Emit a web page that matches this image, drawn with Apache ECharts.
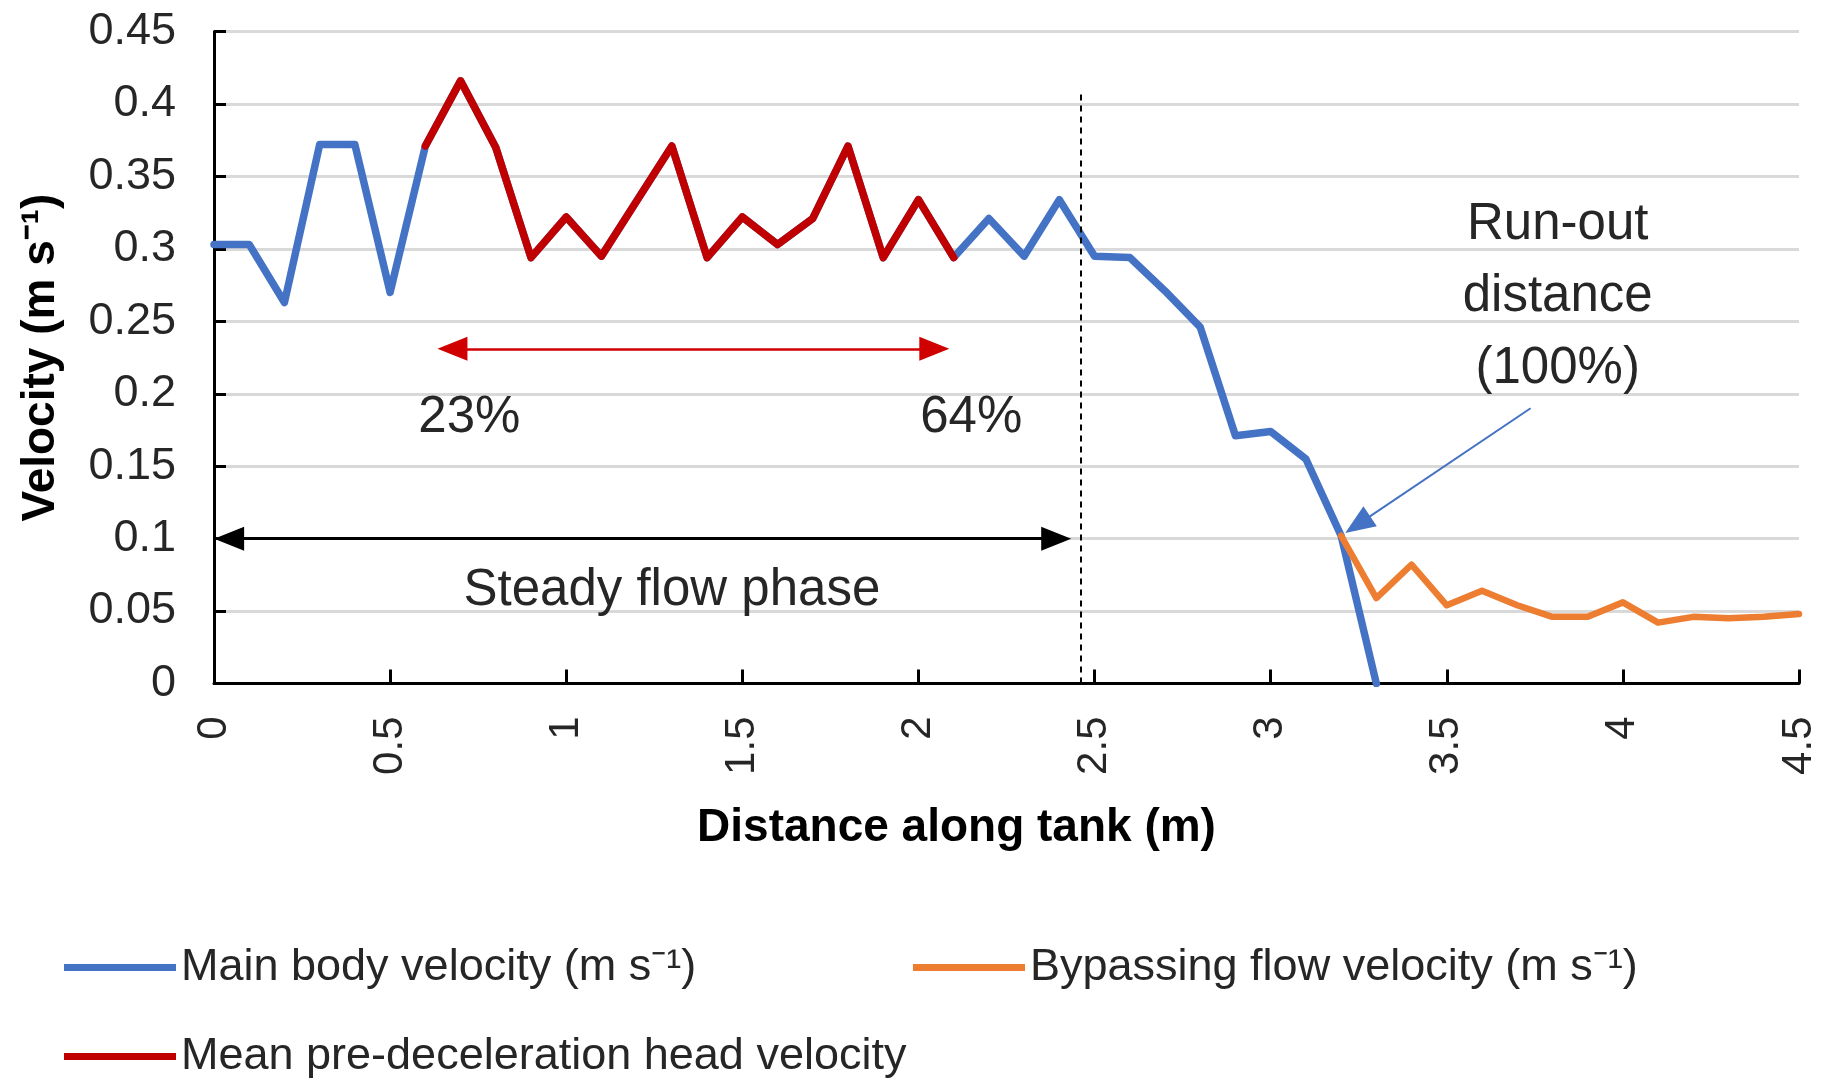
<!DOCTYPE html>
<html>
<head>
<meta charset="utf-8">
<script src="https://cdn.jsdelivr.net/npm/echarts@6/dist/echarts.min.js"></script>
<style>html,body{margin:0;padding:0;background:#fff}#c{width:1835px;height:1078px}</style>
</head>
<body>
<div id="c"></div>
<script>
// ---- data ----
const mainX = [0,0.1,0.2,0.3,0.4,0.5,0.6,0.7,0.8,0.9,1.0,1.1,1.2,1.3,1.4,1.5,1.6,1.7,1.8,1.9,2.0,2.1,2.2,2.3,2.4,2.5,2.6,2.7,2.8,2.9,3.0,3.1,3.2,3.3];
const mainV = [0.303,0.303,0.263,0.372,0.372,0.270,0.371,0.416,0.370,0.294,0.322,0.295,0.333,0.371,0.294,0.322,0.303,0.321,0.371,0.294,0.334,0.294,0.321,0.295,0.334,0.295,0.294,0.271,0.246,0.171,0.174,0.155,0.102,0.0];
const bypassX = [3.2,3.3,3.4,3.5,3.6,3.7,3.8,3.9,4.0,4.1,4.2,4.3,4.4,4.5];
const bypassV = [0.102,0.059,0.082,0.054,0.064,0.054,0.046,0.046,0.056,0.042,0.046,0.045,0.046,0.048];
const headX = [0.6,0.7,0.8,0.9,1.0,1.1,1.2,1.3,1.4,1.5,1.6,1.7,1.8,1.9,2.0,2.1];
const headV = [0.371,0.416,0.370,0.294,0.322,0.295,0.333,0.371,0.294,0.322,0.303,0.321,0.371,0.294,0.334,0.294];
const seriesNames = ['Main body velocity (m s\u207B\u00B9)','Bypassing flow velocity (m s\u207B\u00B9)','Mean pre-deceleration head velocity'];
const xTitle = 'Distance along tank (m)';
const yTitle = 'Velocity (m s\u207B\u00B9)';
// annotation anchors (data coordinates; arrowhead centres)
const steadyStart = [0.043, 0.1], steadyEnd = [2.391, 0.1];
const headArrowStart = [0.677, 0.231], headArrowEnd = [2.045, 0.231];
const dashedLineX = 2.46, dashedLineTop = 0.41;
const runoutArrowFrom = [3.738, 0.190], runoutArrowTo = [3.247, 0.1097];
const textNotes = [
  {text:'23%', at:[0.725, 0.183]},
  {text:'64%', at:[2.15, 0.183]},
  {text:'Steady flow phase', at:[1.30, 0.064]},
  {text:'Run-out\ndistance\n(100%)', at:[3.815, 0.267]}
];

const pair = (xs, vs) => xs.map((x,i)=>[x, vs[i]]);
const FONT = '"Liberation Sans", Arial, sans-serif';
const TXT = '#262626';

const chart = echarts.init(document.getElementById('c'), null, {renderer:'canvas'});
const legendBase = {
  orient:'horizontal', icon:'rect', itemWidth:112, itemHeight:7, padding:0,
  textStyle:{fontSize:45, color:TXT, fontFamily:FONT}, selectedMode:false
};
chart.setOption({
  animation:false,
  backgroundColor:'#fff',
  grid:{left:214, right:36, top:31.6, bottom:394.5, containLabel:false},
  xAxis:{
    type:'value', min:0, max:4.5, interval:0.5,
    name:xTitle, nameLocation:'middle', nameGap:122,
    nameTextStyle:{fontSize:46, fontWeight:'bold', color:'#000', fontFamily:FONT, padding:[0,100,0,0]},
    axisLine:{lineStyle:{color:'#000', width:3}},
    axisTick:{inside:true, length:14, lineStyle:{color:'#000', width:3}},
    axisLabel:{rotate:90, margin:33, fontSize:42, color:TXT, fontFamily:FONT},
    splitLine:{show:false}
  },
  yAxis:{
    type:'value', min:0, max:0.45, interval:0.05,
    name:yTitle, nameLocation:'middle', nameGap:150,
    nameTextStyle:{fontSize:46, fontWeight:'bold', color:'#000', fontFamily:FONT},
    axisLine:{show:true, lineStyle:{color:'#000', width:3}},
    axisTick:{show:true, inside:true, length:12, lineStyle:{color:'#000', width:3}},
    axisLabel:{margin:38, fontSize:45, color:TXT, fontFamily:FONT},
    splitLine:{lineStyle:{color:'#d9d9d9', width:3}}
  },
  legend:[
    Object.assign({}, legendBase, {left:64, top:945, data:[seriesNames[0]]}),
    Object.assign({}, legendBase, {left:913, top:945, data:[seriesNames[1]]}),
    Object.assign({}, legendBase, {left:64, top:1034, data:[seriesNames[2]]})
  ],
  series:[
    {name:seriesNames[0], type:'line', data:pair(mainX, mainV), symbol:'none', color:'#4472C4',
     lineStyle:{width:7.5, color:'#4472C4', join:'round', cap:'round'}, z:3},
    {name:seriesNames[1], type:'line', data:pair(bypassX, bypassV), symbol:'none', color:'#ED7D31',
     lineStyle:{width:6.5, color:'#ED7D31', join:'round', cap:'round'}, z:4},
    {name:seriesNames[2], type:'line', data:pair(headX, headV), symbol:'none', color:'#C00000',
     lineStyle:{width:7.5, color:'#C00000', join:'round', cap:'round'}, z:5},
    {name:'annotations', type:'line', data:[], symbol:'none', z:6,
     markLine:{
       silent:true, animation:false, label:{show:false},
       data:[
         [{coord:steadyStart, symbol:'triangle', symbolSize:[24,30], lineStyle:{color:'#000', width:3, type:'solid'}},
          {coord:steadyEnd, symbol:'triangle', symbolSize:[24,30]}],
         [{coord:headArrowStart, symbol:'triangle', symbolSize:[24,30], lineStyle:{color:'#D00000', width:2.5, type:'solid'}},
          {coord:headArrowEnd, symbol:'triangle', symbolSize:[24,30]}],
         [{coord:[dashedLineX,0], symbol:'none', lineStyle:{color:'#000', width:2, type:[6,5]}},
          {coord:[dashedLineX,dashedLineTop], symbol:'none'}],
         [{coord:runoutArrowFrom, symbol:'none', lineStyle:{color:'#4472C4', width:2, type:'solid'}},
          {coord:runoutArrowTo, symbol:'triangle', symbolSize:[24,30]}]
       ],
       itemStyle:{color:'#000'}
     },
     markPoint:{
       silent:true, animation:false, symbol:'rect', symbolSize:1,
       itemStyle:{color:'rgba(0,0,0,0)'},
       label:{show:true, position:'inside', fontSize:51, lineHeight:72, color:TXT, fontFamily:FONT, align:'center', verticalAlign:'middle'},
       data:textNotes.map(n=>({coord:n.at, value:n.text, label:{formatter:n.text}}))
     }
    }
  ]
});
</script>
</body>
</html>
